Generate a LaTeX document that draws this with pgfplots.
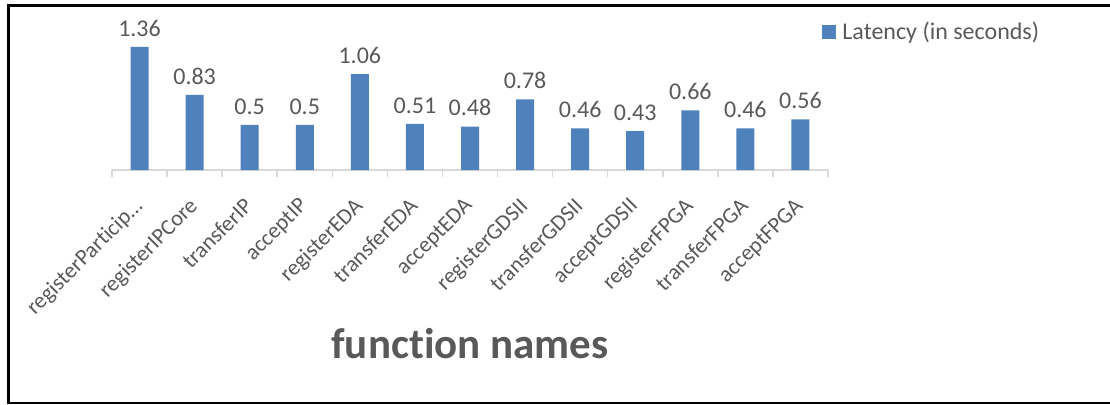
\documentclass[border=0pt]{standalone}
\usepackage{pgfplots}
\pgfplotsset{compat=1.18}
\usepackage{fontspec}
\setmainfont{Carlito}[Ligatures=NoCommon]
\definecolor{barblue}{HTML}{4F81BD}
\definecolor{txt}{HTML}{595959}
\definecolor{axgray}{HTML}{D9D9D9}
\newcommand{\lblfont}{\fontsize{12}{14}\selectfont}
\newcommand{\tickfont}{\fontsize{11.2}{13}\selectfont}
\begin{document}
\begin{tikzpicture}
\useasboundingbox (0,0) rectangle (555pt,-202pt);
\begin{scope}[x=0.5pt,y=-0.5pt]
\draw[line width=1.5pt] (7,5.5) -- (1110,5.5);
\draw[line width=1.5pt] (8.5,4) -- (8.5,404);
\draw[line width=0.75pt] (7,403) -- (1110,403);
\end{scope}
\begin{axis}[
  at={(56pt,-85pt)}, anchor=south west,
  scale only axis, width=358pt, height=80pt,
  xmin=-0.5, xmax=12.5, ymin=0, ymax=1.768,
  axis x line*=bottom, axis y line=none,
  x axis line style={axgray, line width=0.75pt},
  xtick={0,...,12},
  xticklabels={registerParticip…,registerIPCore,transferIP,acceptIP,registerEDA,transferEDA,acceptEDA,registerGDSII,transferGDSII,acceptGDSII,registerFPGA,transferFPGA,acceptFPGA},
  major tick length=0pt,
  minor xtick={-0.5,0.5,...,12.5},
  minor tick length=3.5pt, tick align=outside,
  minor x tick style={axgray, line width=0.75pt},
  xticklabel style={xshift=-3.5pt, yshift=-13pt, rotate=45, anchor=north east, inner sep=0pt, font=\tickfont, text=txt},
  ybar, bar width=9pt,
  nodes near coords,
  every node near coord/.append style={font=\lblfont, text=txt, inner sep=0pt, yshift=5pt},
  /pgf/number format/assume math mode=true,
  legend style={at={(0.99162,0.8625)}, anchor=west, draw=none, fill=none, inner sep=0pt,
    nodes={inner sep=0pt, font=\lblfont, text=txt}},
  legend image code/.code={\fill[barblue] (0pt,-3.5pt) rectangle (7pt,3.5pt); \path (10pt,0pt);},
  xlabel={function names},
  xlabel style={at={(axis description cs:0.5,-1.18)}, anchor=base, font=\fontsize{21.5}{26}\selectfont\bfseries, text=txt},
  clip=false,
]
\addplot[fill=barblue, draw=none] coordinates {(0,1.36) (1,0.83) (2,0.5) (3,0.5) (4,1.06) (5,0.51) (6,0.48) (7,0.78) (8,0.46) (9,0.43) (10,0.66) (11,0.46) (12,0.56)};
\legend{Latency (in seconds)}
\end{axis}
\end{tikzpicture}
\end{document}
